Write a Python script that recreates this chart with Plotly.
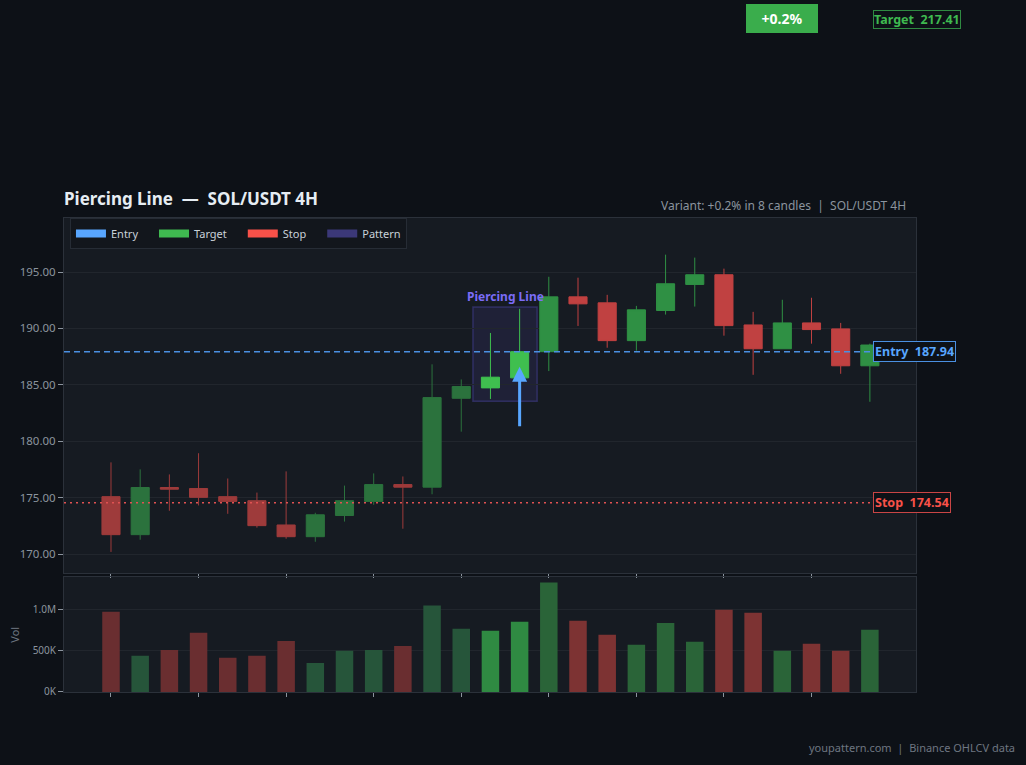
import plotly.graph_objects as go

# ---------------- data ----------------
idx = list(range(27))
opens = [175.09, 171.72, 175.90, 175.81, 175.09, 174.73, 172.58, 171.54, 173.42, 174.67,
         176.16, 175.93, 183.81, 184.73, 185.62, 187.94, 192.80, 192.27, 188.92, 191.59,
         193.90, 194.76, 190.31, 188.20, 190.49, 189.96, 186.69]
highs = [178.13, 177.51, 177.06, 178.94, 176.70, 175.45, 177.33, 173.66, 176.07, 177.15,
         176.88, 186.82, 185.48, 189.60, 191.74, 194.58, 194.50, 192.98, 192.00, 196.54,
         196.28, 195.30, 191.47, 192.54, 192.72, 190.49, 188.65]
lows = [170.19, 171.27, 173.84, 174.31, 173.57, 172.34, 171.36, 171.09, 172.88, 174.37,
        172.25, 175.30, 180.85, 183.75, 185.40, 186.22, 190.22, 188.29, 188.03, 191.23,
        191.94, 189.36, 185.89, 188.20, 188.65, 185.98, 183.50]
closes = [171.72, 175.90, 175.75, 175.03, 174.67, 172.52, 171.54, 173.48, 174.73, 176.16,
          175.93, 183.87, 184.85, 185.68, 187.94, 192.80, 192.18, 188.92, 191.65, 193.96,
          194.76, 190.25, 188.20, 190.49, 189.90, 186.69, 188.53]
volumes = [976e3, 440e3, 510e3, 720e3, 415e3, 440e3, 620e3, 354e3, 500e3, 510e3,
           560e3, 1050e3, 770e3, 744e3, 854e3, 1330e3, 866e3, 695e3, 573e3, 840e3,
           610e3, 1000e3, 963e3, 500e3, 585e3, 500e3, 756e3]

pattern_idx = [13, 14]
entry_price = 187.94
target_price = 217.41
stop_price = 174.54
variant_text = "+0.2%"
pair = "SOL/USDT 4H"
pattern_name = "Piercing Line"
legend_names = ["Entry", "Target", "Stop", "Pattern"]
xtick_vals = list(range(0, 27, 3))
vol_tick_vals = [0, 500000, 1000000]
vol_tick_text = ["0K", "500K", "1.0M"]

# ---------------- style ----------------
PAPER = "#0d1117"
PLOT = "#161b22"
GRID = "#21262d"
AXIS = "#2b313a"
TXT = "#8b949e"
BLUE = "#58a6ff"
GREEN = "#3fb950"
RED = "#f85149"
PURPLE = "#7b6cf6"
FONT = "Noto Sans"

Y_RANGE = [168.32, 199.79]
Y_DOM = [0.251, 1.0]

fig = go.Figure()

def subset(ids):
    return dict(x=[idx[i] for i in ids], open=[opens[i] for i in ids], high=[highs[i] for i in ids],
                low=[lows[i] for i in ids], close=[closes[i] for i in ids])

pre = [i for i in idx if i < pattern_idx[0]]
pat = pattern_idx
post = [i for i in idx if i > pattern_idx[-1]]

for ids, gc, rc in [(pre, "#2b723d", "#9e3b3b"), (pat, "#3fbf4f", "#e04848"), (post, "#2f9044", "#c04141")]:
    fig.add_trace(go.Candlestick(
        **subset(ids), xaxis="x", yaxis="y", showlegend=False, whiskerwidth=0,
        increasing=dict(line=dict(color=gc, width=1), fillcolor=gc),
        decreasing=dict(line=dict(color=rc, width=1), fillcolor=rc),
        hoverinfo="skip"))

# volume bars
vol_colors = []
for i in idx:
    up = closes[i] >= opens[i]
    if i in pattern_idx:
        vol_colors.append("#2f8a42" if up else "#a03a3a")
    elif i < pattern_idx[0]:
        vol_colors.append("#26553a" if up else "#6a2e30")
    else:
        vol_colors.append("#2a6438" if up else "#7d3333")
fig.add_trace(go.Bar(x=idx, y=volumes, marker=dict(color=vol_colors, line=dict(width=0)),
                     width=0.6, xaxis="x2", yaxis="y2", showlegend=False, hoverinfo="skip"))

# legend-only entries
for k, (name, col) in enumerate(zip(legend_names, [BLUE, GREEN, RED, "#3b3878"])):
    label = name if k == len(legend_names) - 1 else name + "\u2003"
    fig.add_trace(go.Scatter(x=[None], y=[None], mode="lines", name=label,
                             line=dict(color=col, width=8), xaxis="x", yaxis="y"))

def price_to_paper(p):
    return Y_DOM[0] + (p - Y_RANGE[0]) / (Y_RANGE[1] - Y_RANGE[0]) * (Y_DOM[1] - Y_DOM[0])

shapes = [
    dict(type="line", xref="x domain", yref="y", x0=0, x1=1, y0=entry_price, y1=entry_price,
         line=dict(color="#4a90e2", width=1.5, dash="6px,4px")),
    dict(type="line", xref="x domain", yref="y", x0=0, x1=1, y0=stop_price, y1=stop_price,
         line=dict(color="#e05252", width=1.5, dash="2px,4px")),
    dict(type="rect", xref="x", yref="y", x0=pattern_idx[0] - 0.6, x1=pattern_idx[-1] + 0.6,
         y0=min(lows[i] for i in pattern_idx) - 0.2, y1=max(highs[i] for i in pattern_idx) + 0.15,
         fillcolor="rgba(90,80,200,0.13)", line=dict(color="rgba(90,80,200,0.35)", width=1.5),
         layer="below"),
]

ann = [
    dict(text=f"<b>{pattern_name}  —  {pair}</b>", xref="paper", yref="paper", x=0, y=1.042,
         xanchor="left", yanchor="middle", showarrow=False, xshift=-2,
         font=dict(family=FONT, size=17, color="#e6edf3")),
    dict(text=f"Variant: {variant_text} in 8 candles  |  {pair}", xref="paper", yref="paper",
         x=0.9906, y=1.027, xanchor="right", yanchor="middle", showarrow=False,
         font=dict(family=FONT, size=12, color=TXT)),
    dict(text="youpattern.com  |  Binance OHLCV data", xref="paper", yref="paper", x=1.118, y=-0.118,
         xanchor="right", yanchor="middle", showarrow=False, font=dict(family=FONT, size=11, color="#6e7681")),
    dict(text=f"<b>Entry  {entry_price:.2f}</b>", xref="paper", yref="y", x=0.9495, y=entry_price,
         xanchor="left", yanchor="middle", showarrow=False, font=dict(family=FONT, size=12.5, color=BLUE),
         bgcolor=PAPER, bordercolor="#4a90e2", borderwidth=1, borderpad=1),
    dict(text=f"<b>Stop  {stop_price:.2f}</b>", xref="paper", yref="y", x=0.9495, y=stop_price,
         xanchor="left", yanchor="middle", showarrow=False, font=dict(family=FONT, size=12.5, color=RED),
         bgcolor=PAPER, bordercolor="#c94545", borderwidth=1, borderpad=1),
    dict(text=f"<b>Target  {target_price:.2f}</b>", xref="paper", yref="paper", x=0.9495,
         y=price_to_paper(target_price), xanchor="left", yanchor="middle", showarrow=False,
         font=dict(family=FONT, size=12.5, color=GREEN),
         bgcolor=PAPER, bordercolor="#2f8a42", borderwidth=1, borderpad=0),
    dict(text=f"<b>{variant_text}</b>", xref="x", yref="paper", x=23, y=price_to_paper(target_price),
         yshift=1, xanchor="center", yanchor="middle", showarrow=False,
         font=dict(family=FONT, size=14, color="white"),
         bgcolor="#3aad4c", borderpad=4, bordercolor="#3aad4c", borderwidth=1, width=62),
    dict(text=f"<b>{pattern_name}</b>", xref="x", yref="y", x=(pattern_idx[0] + pattern_idx[-1]) / 2,
         y=max(highs[i] for i in pattern_idx) + 0.15, xanchor="center", yanchor="bottom",
         showarrow=False, font=dict(family=FONT, size=12, color=PURPLE)),
    dict(text="", xref="x", yref="y", axref="x", ayref="y", x=pattern_idx[-1], y=186.6,
         ax=pattern_idx[-1], ay=181.2, showarrow=True, arrowhead=2, arrowsize=1, arrowwidth=3,
         arrowcolor=BLUE),
    dict(text="Vol", xref="paper", yref="paper", x=-0.058, y=0.12, textangle=-90, showarrow=False,
         xanchor="center", yanchor="middle", font=dict(family=FONT, size=11, color="#6e7681")),
]

fig.update_layout(
    width=1026, height=765, paper_bgcolor=PAPER, plot_bgcolor=PLOT,
    margin=dict(l=64, r=110, t=218, b=73),
    font=dict(family=FONT, color=TXT, size=11),
    showlegend=True,
    legend=dict(orientation="h", x=0.007, y=1.0, xanchor="left", yanchor="top",
                bgcolor="#12161c", bordercolor="#262c35", borderwidth=1,
                font=dict(family=FONT, size=11, color="#c9d1d9"), itemwidth=30),
    shapes=shapes, annotations=ann,
    xaxis=dict(domain=[0, 1], anchor="y", range=[-1.61, 27.58], tickvals=xtick_vals, showticklabels=False,
               ticks="outside", ticklen=4, tickcolor=TXT, showgrid=False, zeroline=False,
               showline=True, linecolor=AXIS, mirror=True, rangeslider=dict(visible=False), fixedrange=True),
    yaxis=dict(domain=Y_DOM, anchor="x", range=Y_RANGE, tickformat=".2f", dtick=5,
               ticks="outside", ticklen=5, tickcolor=TXT, gridcolor=GRID, zeroline=False,
               showline=True, linecolor=AXIS, mirror=True, tickfont=dict(size=11.5, color=TXT)),
    xaxis2=dict(domain=[0, 1], anchor="y2", matches="x", tickvals=xtick_vals, showticklabels=False,
                ticks="outside", ticklen=4, tickcolor=TXT, showgrid=False, zeroline=False,
                showline=True, linecolor=AXIS, mirror=True),
    yaxis2=dict(domain=[0, 0.243], anchor="x2", range=[0, 1.4e6], tickvals=vol_tick_vals,
                ticktext=vol_tick_text, ticks="outside", ticklen=5, tickcolor=TXT, gridcolor=GRID,
                zeroline=False, showline=True, linecolor=AXIS, mirror=True,
                tickfont=dict(size=10, color=TXT)),
    boxgap=0.38, boxgroupgap=0, bargap=0.4,
)

fig.write_html("out.html")
